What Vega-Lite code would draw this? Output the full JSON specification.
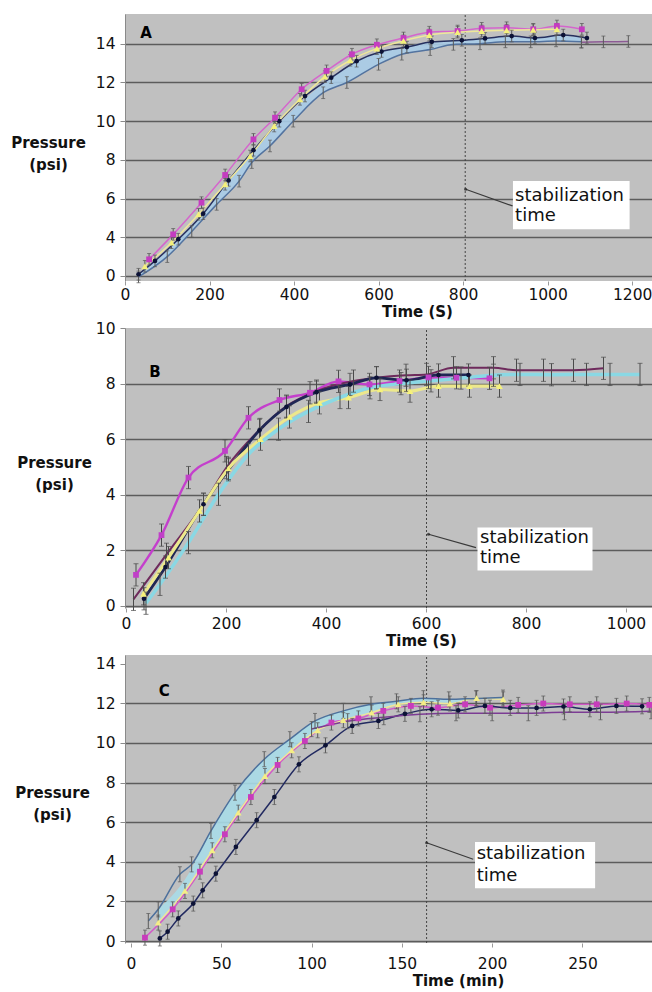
{
  "$schema": "https://vega.github.io/schema/vega-lite/v6.json",
  "background": "white",
  "padding": {"left": 10, "top": 13, "right": 0, "bottom": 0},
  "autosize": {"type": "pad"},
  "spacing": 47,
  "bounds": "flush",
  "resolve": {"scale": {"color": "independent", "fill": "independent", "shape": "independent", "size": "independent", "strokeWidth": "independent"}},
  "config": {
    "font": "DejaVu Sans",
    "view": {"fill": "#c0c0c0", "stroke": null},
    "axis": {"labelFont": "DejaVu Sans", "labelFontSize": 15.5, "labelColor": "#111111", "titleFont": "DejaVu Sans", "titleFontWeight": "bold", "titleFontSize": 15, "titleColor": "#111111", "gridColor": "#5c5c5c", "gridWidth": 1.5},
    "axisX": {"grid": false, "ticks": true, "tickSize": 4, "tickColor": "#9a9a9a", "labelPadding": 2, "domain": false, "labelFlush": false, "titlePadding": 2, "titleAlign": "center", "format": "d"},
    "axisY": {"grid": true, "tickSize": 5, "tickColor": "#8a8a8a", "labelPadding": 5, "domain": true, "domainColor": "#8a8a8a", "titleAngle": 0, "titleAlign": "center", "titleBaseline": "top", "titleLineHeight": 22}
  },
  "datasets": {
    "A": [
      {"s":"navy","t":32,"v":2.09,"e":0.3},{"s":"navy","t":71,"v":2.78,"e":0.3},{"s":"navy","t":126,"v":3.9,"e":0.3},{"s":"navy","t":185,"v":5.22,"e":0.3},{"s":"navy","t":245,"v":6.94,"e":0.3},{"s":"navy","t":304,"v":8.5,"e":0.3},{"s":"navy","t":365,"v":10.0,"e":0.3},{"s":"navy","t":426,"v":11.3,"e":0.3},{"s":"navy","t":488,"v":12.25,"e":0.3},{"s":"navy","t":548,"v":13.1,"e":0.3},{"s":"navy","t":607,"v":13.6,"e":0.3},{"s":"navy","t":667,"v":13.83,"e":0.3},{"s":"navy","t":726,"v":14.1,"e":0.3},{"s":"navy","t":797,"v":14.18,"e":0.3},{"s":"navy","t":852,"v":14.28,"e":0.3},{"s":"navy","t":915,"v":14.4,"e":0.3},{"s":"navy","t":970,"v":14.3,"e":0.3},{"s":"navy","t":1037,"v":14.45,"e":0.3},{"s":"navy","t":1093,"v":14.3,"e":0.3},
      {"s":"magenta","t":57,"v":2.86,"e":0.3},{"s":"magenta","t":114,"v":4.15,"e":0.3},{"s":"magenta","t":181,"v":5.79,"e":0.3},{"s":"magenta","t":237,"v":7.22,"e":0.3},{"s":"magenta","t":304,"v":9.06,"e":0.3},{"s":"magenta","t":355,"v":10.18,"e":0.3},{"s":"magenta","t":418,"v":11.65,"e":0.3},{"s":"magenta","t":477,"v":12.6,"e":0.3},{"s":"magenta","t":537,"v":13.46,"e":0.3},{"s":"magenta","t":596,"v":13.95,"e":0.3},{"s":"magenta","t":659,"v":14.3,"e":0.3},{"s":"magenta","t":720,"v":14.6,"e":0.3},{"s":"magenta","t":787,"v":14.66,"e":0.3},{"s":"magenta","t":844,"v":14.8,"e":0.3},{"s":"magenta","t":903,"v":14.83,"e":0.3},{"s":"magenta","t":966,"v":14.75,"e":0.3},{"s":"magenta","t":1022,"v":14.92,"e":0.3},{"s":"magenta","t":1081,"v":14.75,"e":0.3},
      {"s":"yellow","t":47,"v":2.5,"e":0.3},{"s":"yellow","t":110,"v":3.72,"e":0.3},{"s":"yellow","t":174,"v":5.19,"e":0.3},{"s":"yellow","t":237,"v":6.74,"e":0.3},{"s":"yellow","t":296,"v":8.2,"e":0.3},{"s":"yellow","t":353,"v":9.75,"e":0.3},{"s":"yellow","t":414,"v":11.13,"e":0.3},{"s":"yellow","t":473,"v":12.3,"e":0.3},{"s":"yellow","t":533,"v":13.15,"e":0.3},{"s":"yellow","t":596,"v":13.75,"e":0.3},{"s":"yellow","t":659,"v":14.15,"e":0.3},{"s":"yellow","t":720,"v":14.45,"e":0.3},{"s":"yellow","t":787,"v":14.6,"e":0.3},{"s":"yellow","t":844,"v":14.66,"e":0.3},{"s":"yellow","t":903,"v":14.7,"e":0.3},{"s":"yellow","t":966,"v":14.72,"e":0.3},{"s":"yellow","t":1022,"v":14.75,"e":0.3},
      {"s":"steel","t":32,"v":1.95,"e":0.3},{"s":"steel","t":100,"v":3.0,"e":0.3},{"s":"steel","t":158,"v":4.3,"e":0.3},{"s":"steel","t":217,"v":5.7,"e":0.3},{"s":"steel","t":270,"v":6.9,"e":0.3},{"s":"steel","t":300,"v":7.86,"e":0.3},{"s":"steel","t":343,"v":8.72,"e":0.3},{"s":"steel","t":398,"v":10.0,"e":0.3},{"s":"steel","t":469,"v":11.47,"e":0.3},{"s":"steel","t":525,"v":12.0,"e":0.3},{"s":"steel","t":600,"v":12.94,"e":0.3},{"s":"steel","t":655,"v":13.46,"e":0.3},{"s":"steel","t":722,"v":13.7,"e":0.3},{"s":"steel","t":777,"v":13.97,"e":0.3},{"s":"steel","t":840,"v":14.0,"e":0.3},{"s":"steel","t":900,"v":14.1,"e":0.3},{"s":"steel","t":960,"v":14.1,"e":0.3},{"s":"steel","t":1020,"v":14.15,"e":0.3},{"s":"steel","t":1080,"v":14.1,"e":0.3},
      {"s":"purple","t":1080,"v":14.08,"e":0.3},{"s":"purple","t":1132,"v":14.1,"e":0.3},{"s":"purple","t":1191,"v":14.12,"e":0.3}
    ],
    "Aband": [
      {"t":32,"v":2.09,"lo":1.95},{"t":100,"v":3.3,"lo":3.0},{"t":158,"v":4.6,"lo":4.3},{"t":217,"v":6.1,"lo":5.7},{"t":270,"v":7.6,"lo":6.9},{"t":300,"v":8.4,"lo":7.86},{"t":343,"v":9.4,"lo":8.72},{"t":398,"v":10.6,"lo":10.0},{"t":469,"v":11.95,"lo":11.47},{"t":525,"v":12.8,"lo":12.0},{"t":600,"v":13.55,"lo":12.94},{"t":655,"v":13.8,"lo":13.46},{"t":722,"v":14.1,"lo":13.7},{"t":777,"v":14.17,"lo":13.97},{"t":840,"v":14.26,"lo":14.0},{"t":900,"v":14.37,"lo":14.1},{"t":960,"v":14.32,"lo":14.1},{"t":1020,"v":14.42,"lo":14.15},{"t":1080,"v":14.33,"lo":14.1}
    ],
    "B": [
      {"s":"magenta","t":20,"v":1.12,"e":0.4},{"s":"magenta","t":71,"v":2.55,"e":0.4},{"s":"magenta","t":125,"v":4.62,"e":0.4},{"s":"magenta","t":198,"v":5.58,"e":0.4},{"s":"magenta","t":245,"v":6.77,"e":0.4},{"s":"magenta","t":307,"v":7.41,"e":0.4},{"s":"magenta","t":368,"v":7.67,"e":0.4},{"s":"magenta","t":425,"v":8.08,"e":0.4},{"s":"magenta","t":487,"v":7.97,"e":0.4},{"s":"magenta","t":547,"v":8.09,"e":0.4},{"s":"magenta","t":605,"v":8.22,"e":0.4},{"s":"magenta","t":661,"v":8.21,"e":0.4},{"s":"magenta","t":727,"v":8.19,"e":0.4},
      {"s":"purple","t":15,"v":0.24,"e":0.4},{"s":"purple","t":81,"v":1.86,"e":0.4},{"s":"purple","t":155,"v":3.66,"e":0.4},{"s":"purple","t":201,"v":4.98,"e":0.4},{"s":"purple","t":268,"v":6.35,"e":0.4},{"s":"purple","t":321,"v":7.19,"e":0.4},{"s":"purple","t":381,"v":7.73,"e":0.4},{"s":"purple","t":455,"v":8.09,"e":0.4},{"s":"purple","t":501,"v":8.21,"e":0.4},{"s":"purple","t":560,"v":8.3,"e":0.4},{"s":"purple","t":601,"v":8.33,"e":0.4},{"s":"purple","t":655,"v":8.57,"e":0.4},{"s":"purple","t":735,"v":8.57,"e":0.4},{"s":"purple","t":781,"v":8.48,"e":0.4},{"s":"purple","t":835,"v":8.48,"e":0.4},{"s":"purple","t":895,"v":8.48,"e":0.4},{"s":"purple","t":955,"v":8.55,"e":0.4},
      {"s":"navy","t":36,"v":0.26,"e":0.4},{"s":"navy","t":79,"v":1.4,"e":0.4},{"s":"navy","t":155,"v":3.66,"e":0.4},{"s":"navy","t":205,"v":4.9,"e":0.4},{"s":"navy","t":267,"v":6.32,"e":0.4},{"s":"navy","t":321,"v":7.16,"e":0.4},{"s":"navy","t":381,"v":7.69,"e":0.4},{"s":"navy","t":448,"v":7.97,"e":0.4},{"s":"navy","t":501,"v":8.21,"e":0.4},{"s":"navy","t":561,"v":8.12,"e":0.4},{"s":"navy","t":625,"v":8.31,"e":0.4},{"s":"navy","t":685,"v":8.31,"e":0.4},
      {"s":"yellow","t":35,"v":0.44,"e":0.4},{"s":"yellow","t":85,"v":1.74,"e":0.4},{"s":"yellow","t":147,"v":3.42,"e":0.4},{"s":"yellow","t":205,"v":4.95,"e":0.4},{"s":"yellow","t":269,"v":6.0,"e":0.4},{"s":"yellow","t":327,"v":6.8,"e":0.4},{"s":"yellow","t":387,"v":7.31,"e":0.4},{"s":"yellow","t":445,"v":7.5,"e":0.4},{"s":"yellow","t":508,"v":7.79,"e":0.4},{"s":"yellow","t":568,"v":7.73,"e":0.4},{"s":"yellow","t":625,"v":7.91,"e":0.4},{"s":"yellow","t":687,"v":7.91,"e":0.4},{"s":"yellow","t":747,"v":7.91,"e":0.4},
      {"s":"cyan","t":40,"v":0.1,"e":0.4},{"s":"cyan","t":68,"v":0.78,"e":0.4},{"s":"cyan","t":125,"v":2.28,"e":0.4},{"s":"cyan","t":185,"v":4.02,"e":0.4},{"s":"cyan","t":245,"v":5.46,"e":0.4},{"s":"cyan","t":305,"v":6.36,"e":0.4},{"s":"cyan","t":365,"v":7.0,"e":0.4},{"s":"cyan","t":428,"v":7.5,"e":0.4},{"s":"cyan","t":488,"v":7.85,"e":0.4},{"s":"cyan","t":550,"v":8.0,"e":0.4},{"s":"cyan","t":610,"v":8.1,"e":0.4},{"s":"cyan","t":670,"v":8.2,"e":0.4},{"s":"cyan","t":735,"v":8.3,"e":0.4},{"s":"cyan","t":788,"v":8.33,"e":0.4},{"s":"cyan","t":851,"v":8.32,"e":0.4},{"s":"cyan","t":921,"v":8.33,"e":0.4},{"s":"cyan","t":968,"v":8.33,"e":0.4},{"s":"cyan","t":1028,"v":8.33,"e":0.4}
    ],
    "C": [
      {"s":"magenta","t":7.75,"v":0.17,"e":0.38},{"s":"magenta","t":23.1,"v":1.6,"e":0.38},{"s":"magenta","t":38.2,"v":3.5,"e":0.38},{"s":"magenta","t":52,"v":5.39,"e":0.38},{"s":"magenta","t":66.4,"v":7.27,"e":0.38},{"s":"magenta","t":81.2,"v":8.89,"e":0.38},{"s":"magenta","t":96.3,"v":10.1,"e":0.38},{"s":"magenta","t":111,"v":11.03,"e":0.38},{"s":"magenta","t":125.9,"v":11.24,"e":0.38},{"s":"magenta","t":139.7,"v":11.62,"e":0.38},{"s":"magenta","t":155,"v":11.87,"e":0.38},{"s":"magenta","t":170,"v":11.78,"e":0.38},{"s":"magenta","t":185,"v":11.95,"e":0.38},{"s":"magenta","t":198.8,"v":11.78,"e":0.38},{"s":"magenta","t":214.4,"v":11.92,"e":0.38},{"s":"magenta","t":228.3,"v":11.99,"e":0.38},{"s":"magenta","t":243,"v":11.95,"e":0.38},{"s":"magenta","t":257.9,"v":11.95,"e":0.38},{"s":"magenta","t":274.5,"v":11.99,"e":0.38},{"s":"magenta","t":287,"v":11.92,"e":0.38},
      {"s":"navy","t":16,"v":0.13,"e":0.38},{"s":"navy","t":20.3,"v":0.47,"e":0.38},{"s":"navy","t":26.2,"v":1.14,"e":0.38},{"s":"navy","t":34.5,"v":1.89,"e":0.38},{"s":"navy","t":39.7,"v":2.56,"e":0.38},{"s":"navy","t":47,"v":3.4,"e":0.38},{"s":"navy","t":58.1,"v":4.75,"e":0.38},{"s":"navy","t":69.6,"v":6.1,"e":0.38},{"s":"navy","t":79.4,"v":7.27,"e":0.38},{"s":"navy","t":93,"v":8.92,"e":0.38},{"s":"navy","t":107.7,"v":9.88,"e":0.38},{"s":"navy","t":122.5,"v":10.86,"e":0.38},{"s":"navy","t":137,"v":11.11,"e":0.38},{"s":"navy","t":151.7,"v":11.47,"e":0.38},{"s":"navy","t":166.5,"v":11.7,"e":0.38},{"s":"navy","t":181.2,"v":11.64,"e":0.38},{"s":"navy","t":196,"v":11.87,"e":0.38},{"s":"navy","t":210,"v":11.77,"e":0.38},{"s":"navy","t":224.6,"v":11.77,"e":0.38},{"s":"navy","t":239.5,"v":11.84,"e":0.38},{"s":"navy","t":254.1,"v":11.7,"e":0.38},{"s":"navy","t":268.8,"v":11.87,"e":0.38},{"s":"navy","t":283,"v":11.85,"e":0.38},
      {"s":"yellow","t":15.1,"v":0.93,"e":0.38},{"s":"yellow","t":29.9,"v":2.53,"e":0.38},{"s":"yellow","t":45,"v":4.58,"e":0.38},{"s":"yellow","t":59.4,"v":6.48,"e":0.38},{"s":"yellow","t":74.2,"v":8.33,"e":0.38},{"s":"yellow","t":89,"v":9.63,"e":0.38},{"s":"yellow","t":103.4,"v":10.64,"e":0.38},{"s":"yellow","t":117.6,"v":11.15,"e":0.38},{"s":"yellow","t":133.3,"v":11.53,"e":0.38},{"s":"yellow","t":148,"v":11.95,"e":0.38},{"s":"yellow","t":162,"v":12.05,"e":0.38},{"s":"yellow","t":176.6,"v":11.99,"e":0.38},{"s":"yellow","t":191.4,"v":12.26,"e":0.38},{"s":"yellow","t":206.1,"v":12.2,"e":0.38},
      {"s":"steel","t":9.6,"v":1.01,"e":0.38},{"s":"steel","t":15.1,"v":1.6,"e":0.38},{"s":"steel","t":27.1,"v":3.37,"e":0.38},{"s":"steel","t":33.6,"v":3.87,"e":0.38},{"s":"steel","t":44.3,"v":5.56,"e":0.38},{"s":"steel","t":57.6,"v":7.49,"e":0.38},{"s":"steel","t":73.8,"v":9.18,"e":0.38},{"s":"steel","t":88,"v":10.19,"e":0.38},{"s":"steel","t":101.9,"v":11.11,"e":0.38},{"s":"steel","t":117.6,"v":11.62,"e":0.38},{"s":"steel","t":132.9,"v":11.95,"e":0.38},{"s":"steel","t":147,"v":12.1,"e":0.38},{"s":"steel","t":161.9,"v":12.26,"e":0.38},{"s":"steel","t":176,"v":12.2,"e":0.38},{"s":"steel","t":191,"v":12.25,"e":0.38},{"s":"steel","t":206,"v":12.29,"e":0.38},
      {"s":"purple","t":100,"v":10.7,"e":0.38},{"s":"purple","t":120,"v":11.1,"e":0.38},{"s":"purple","t":140,"v":11.3,"e":0.38},{"s":"purple","t":160,"v":11.45,"e":0.38},{"s":"purple","t":180,"v":11.5,"e":0.38},{"s":"purple","t":200,"v":11.5,"e":0.38},{"s":"purple","t":220,"v":11.5,"e":0.38},{"s":"purple","t":240,"v":11.55,"e":0.38},{"s":"purple","t":260,"v":11.55,"e":0.38},{"s":"purple","t":288,"v":11.6,"e":0.38}
    ],
    "Cband": [
      {"t":15.1,"v":1.6,"lo":0.93},{"t":29.9,"v":3.1,"lo":2.53},{"t":44.3,"v":5.56,"lo":4.5},{"t":57.6,"v":7.49,"lo":6.35},{"t":73.8,"v":9.18,"lo":8.3},{"t":88,"v":10.19,"lo":9.55},{"t":101.9,"v":11.11,"lo":10.55},{"t":117.6,"v":11.62,"lo":11.15},{"t":132.9,"v":11.95,"lo":11.53},{"t":148,"v":12.1,"lo":11.95},{"t":161.9,"v":12.26,"lo":12.05},{"t":176,"v":12.2,"lo":11.99},{"t":191,"v":12.25,"lo":12.2},{"t":206,"v":12.29,"lo":12.2}
    ]
  },
  "vconcat": [
    {
      "width": 527,
      "height": 267,
      "encoding": {
        "x": {"field": "t", "type": "quantitative", "scale": {"domain": [0, 1247], "nice": false, "zero": false}, "axis": {"values": [0, 200, 400, 600, 800, 1000, 1200], "title": "Time (S)", "titleX": 292}},
        "y": {"field": "v", "type": "quantitative", "scale": {"domain": [1.74, 15.54], "nice": false, "zero": false}, "axis": {"values": [2, 4, 6, 8, 10, 12, 14], "labelExpr": "datum.value == 2 ? '0' : datum.label", "title": ["Pressure", "(psi)"], "titleX": -77, "titleY": 121}}
      },
      "layer": [
        {"data": {"name": "Aband"}, "mark": {"type": "area", "color": "#a9cce8", "opacity": 0.9, "interpolate": "monotone"}, "encoding": {"y2": {"field": "lo"}}},
        {"data": {"values": [{"t": 805, "v": 1.74, "v2": 15.54}]}, "mark": {"type": "rule", "color": "#444444", "strokeDash": [2, 2], "strokeWidth": 1}, "encoding": {"y2": {"field": "v2"}}},
        {"data": {"name": "A"}, "mark": {"type": "line", "interpolate": "monotone"}, "encoding": {
          "color": {"field": "s", "type": "nominal", "scale": {"domain": ["navy", "magenta", "yellow", "steel", "purple"], "range": ["#27305e", "#d466cc", "#efe79a", "#53739f", "#8c5a94"]}, "legend": null},
          "strokeWidth": {"field": "s", "type": "nominal", "scale": {"domain": ["navy", "magenta", "yellow", "steel", "purple"], "range": [1.5, 1.5, 2, 1.5, 1.5]}, "legend": null}}},
        {"data": {"name": "A"}, "mark": {"type": "errorbar", "ticks": {"size": 4}, "color": "#5a5a5a"}, "encoding": {"yError": {"field": "e"}}},
        {"data": {"name": "A"}, "transform": [{"filter": "datum.s == 'navy' || datum.s == 'magenta' || datum.s == 'yellow'"}], "mark": {"type": "point", "filled": true, "opacity": 1, "strokeWidth": 0}, "encoding": {
          "fill": {"field": "s", "type": "nominal", "scale": {"domain": ["navy", "magenta", "yellow"], "range": ["#0c1236", "#c43cc0", "#f4f07c"]}, "legend": null},
          "shape": {"field": "s", "type": "nominal", "scale": {"domain": ["navy", "magenta", "yellow"], "range": ["circle", "square", "triangle-up"]}, "legend": null},
          "size": {"field": "s", "type": "nominal", "scale": {"domain": ["navy", "magenta", "yellow"], "range": [22, 45, 38]}, "legend": null}}},
        {"data": {"values": [{"t": 918, "v": 6.91, "t2": 1194, "v2": 4.41}]}, "mark": {"type": "rect", "fill": "white"}, "encoding": {"x2": {"field": "t2"}, "y2": {"field": "v2"}}},
        {"data": {"values": [{"t": 806, "v": 6.48, "t2": 917, "v2": 5.62}]}, "mark": {"type": "rule", "color": "#3a3a3a", "strokeWidth": 1.2}, "encoding": {"x2": {"field": "t2"}, "y2": {"field": "v2"}}},
        {"data": {"values": [{"t": 806, "v": 6.48}]}, "mark": {"type": "point", "filled": true, "color": "#222222", "size": 10}},
        {"data": {"values": [{"t": 923, "v": 6.13, "label": "stabilization"}, {"t": 923, "v": 5.1, "label": "time"}]}, "mark": {"type": "text", "align": "left", "baseline": "middle", "fontSize": 18, "font": "DejaVu Sans", "color": "#111111"}, "encoding": {"text": {"field": "label"}}},
        {"data": {"values": [{"t": 50, "v": 14.56, "label": "A"}]}, "mark": {"type": "text", "align": "center", "baseline": "middle", "fontSize": 15, "fontWeight": 900, "font": "DejaVu Sans", "color": "#000000"}, "encoding": {"text": {"field": "label"}}}
      ]
    },
    {
      "width": 527,
      "height": 280,
      "encoding": {
        "x": {"field": "t", "type": "quantitative", "scale": {"domain": [-2, 1052], "nice": false, "zero": false}, "axis": {"values": [0, 200, 400, 600, 800, 1000], "title": "Time (S)", "titleX": 296, "labelPadding": 4}},
        "y": {"field": "v", "type": "quantitative", "scale": {"domain": [-0.072, 10.0], "nice": false, "zero": false}, "axis": {"values": [0, 2, 4, 6, 8, 10], "title": ["Pressure", "(psi)"], "titleX": -71, "titleY": 127, "gridColor": {"condition": {"test": "datum.value >= 10", "value": "transparent"}, "value": "#5c5c5c"}}}
      },
      "layer": [
        {"data": {"values": [{"t": 601, "v": -0.072, "v2": 10.0}]}, "mark": {"type": "rule", "color": "#444444", "strokeDash": [2, 2], "strokeWidth": 1}, "encoding": {"y2": {"field": "v2"}}},
        {"data": {"name": "B"}, "mark": {"type": "line", "interpolate": "monotone"}, "encoding": {
          "color": {"field": "s", "type": "nominal", "scale": {"domain": ["cyan", "yellow", "navy", "magenta", "purple"], "range": ["#8ad8e4", "#ece88c", "#1f2755", "#c43fcc", "#6e2a5c"]}, "legend": null},
          "strokeWidth": {"field": "s", "type": "nominal", "scale": {"domain": ["cyan", "yellow", "navy", "magenta", "purple"], "range": [3.5, 2, 1.5, 2, 2]}, "legend": null}}},
        {"data": {"name": "B"}, "mark": {"type": "errorbar", "ticks": {"size": 5}, "color": "#4a4a4a"}, "encoding": {"yError": {"field": "e"}}},
        {"data": {"name": "B"}, "transform": [{"filter": "datum.s == 'navy' || datum.s == 'magenta' || datum.s == 'yellow'"}], "mark": {"type": "point", "filled": true, "opacity": 1, "strokeWidth": 0}, "encoding": {
          "fill": {"field": "s", "type": "nominal", "scale": {"domain": ["navy", "magenta", "yellow"], "range": ["#0c1236", "#c040c8", "#f6f27a"]}, "legend": null},
          "shape": {"field": "s", "type": "nominal", "scale": {"domain": ["navy", "magenta", "yellow"], "range": ["circle", "square", "triangle-up"]}, "legend": null},
          "size": {"field": "s", "type": "nominal", "scale": {"domain": ["navy", "magenta", "yellow"], "range": [22, 45, 38]}, "legend": null}}},
        {"data": {"values": [{"t": 703, "v": 2.82, "t2": 933, "v2": 1.28}]}, "mark": {"type": "rect", "fill": "white"}, "encoding": {"x2": {"field": "t2"}, "y2": {"field": "v2"}}},
        {"data": {"values": [{"t": 605, "v": 2.58, "t2": 700, "v2": 2.1}]}, "mark": {"type": "rule", "color": "#3a3a3a", "strokeWidth": 1.2}, "encoding": {"x2": {"field": "t2"}, "y2": {"field": "v2"}}},
        {"data": {"values": [{"t": 605, "v": 2.58}]}, "mark": {"type": "point", "filled": true, "color": "#222222", "size": 10}},
        {"data": {"values": [{"t": 708, "v": 2.43, "label": "stabilization"}, {"t": 708, "v": 1.72, "label": "time"}]}, "mark": {"type": "text", "align": "left", "baseline": "middle", "fontSize": 18, "font": "DejaVu Sans", "color": "#111111"}, "encoding": {"text": {"field": "label"}}},
        {"data": {"values": [{"t": 58, "v": 8.42, "label": "B"}]}, "mark": {"type": "text", "align": "center", "baseline": "middle", "fontSize": 15, "fontWeight": 900, "font": "DejaVu Sans", "color": "#000000"}, "encoding": {"text": {"field": "label"}}}
      ]
    },
    {
      "width": 527,
      "height": 288,
      "encoding": {
        "x": {"field": "t", "type": "quantitative", "scale": {"domain": [-3.3, 288.5], "nice": false, "zero": false}, "axis": {"values": [0, 50, 100, 150, 200, 250], "title": "Time (min)", "titleX": 333, "labelPadding": 9}},
        "y": {"field": "v", "type": "quantitative", "scale": {"domain": [-0.1, 14.44], "nice": false, "zero": false}, "axis": {"values": [0, 2, 4, 6, 8, 10, 12, 14], "title": ["Pressure", "(psi)"], "titleX": -73, "titleY": 130, "gridColor": {"condition": {"test": "datum.value >= 14", "value": "transparent"}, "value": "#5c5c5c"}}}
      },
      "layer": [
        {"data": {"name": "Cband"}, "mark": {"type": "area", "color": "#a8dce8", "opacity": 0.9, "interpolate": "monotone"}, "encoding": {"y2": {"field": "lo"}}},
        {"data": {"values": [{"t": 163.7, "v": -0.1, "v2": 14.44}]}, "mark": {"type": "rule", "color": "#444444", "strokeDash": [2, 2], "strokeWidth": 1}, "encoding": {"y2": {"field": "v2"}}},
        {"data": {"name": "C"}, "mark": {"type": "line", "interpolate": "monotone"}, "encoding": {
          "color": {"field": "s", "type": "nominal", "scale": {"domain": ["navy", "magenta", "yellow", "steel", "purple"], "range": ["#222a60", "#d25ac8", "#f0e49a", "#4d709c", "#7c3c94"]}, "legend": null},
          "strokeWidth": {"field": "s", "type": "nominal", "scale": {"domain": ["navy", "magenta", "yellow", "steel", "purple"], "range": [1.5, 1.5, 2, 1.5, 1.5]}, "legend": null}}},
        {"data": {"name": "C"}, "mark": {"type": "errorbar", "ticks": {"size": 4}, "color": "#5a5a5a"}, "encoding": {"yError": {"field": "e"}}},
        {"data": {"name": "C"}, "transform": [{"filter": "datum.s == 'navy' || datum.s == 'magenta' || datum.s == 'yellow'"}], "mark": {"type": "point", "filled": true, "opacity": 1, "strokeWidth": 0}, "encoding": {
          "fill": {"field": "s", "type": "nominal", "scale": {"domain": ["navy", "magenta", "yellow"], "range": ["#0c1236", "#c83cbc", "#f4ee86"]}, "legend": null},
          "shape": {"field": "s", "type": "nominal", "scale": {"domain": ["navy", "magenta", "yellow"], "range": ["circle", "square", "triangle-up"]}, "legend": null},
          "size": {"field": "s", "type": "nominal", "scale": {"domain": ["navy", "magenta", "yellow"], "range": [22, 45, 38]}, "legend": null}}},
        {"data": {"values": [{"t": 190.5, "v": 5.0, "t2": 257, "v2": 2.66}]}, "mark": {"type": "rect", "fill": "white"}, "encoding": {"x2": {"field": "t2"}, "y2": {"field": "v2"}}},
        {"data": {"values": [{"t": 163.7, "v": 4.96, "t2": 189.5, "v2": 4.13}]}, "mark": {"type": "rule", "color": "#3a3a3a", "strokeWidth": 1.2}, "encoding": {"x2": {"field": "t2"}, "y2": {"field": "v2"}}},
        {"data": {"values": [{"t": 163.7, "v": 4.96}]}, "mark": {"type": "point", "filled": true, "color": "#222222", "size": 10}},
        {"data": {"values": [{"t": 191.4, "v": 4.38, "label": "stabilization"}, {"t": 191.4, "v": 3.28, "label": "time"}]}, "mark": {"type": "text", "align": "left", "baseline": "middle", "fontSize": 18, "font": "DejaVu Sans", "color": "#111111"}, "encoding": {"text": {"field": "label"}}},
        {"data": {"values": [{"t": 18.5, "v": 12.63, "label": "C"}]}, "mark": {"type": "text", "align": "center", "baseline": "middle", "fontSize": 15, "fontWeight": 900, "font": "DejaVu Sans", "color": "#000000"}, "encoding": {"text": {"field": "label"}}}
      ]
    }
  ]
}
